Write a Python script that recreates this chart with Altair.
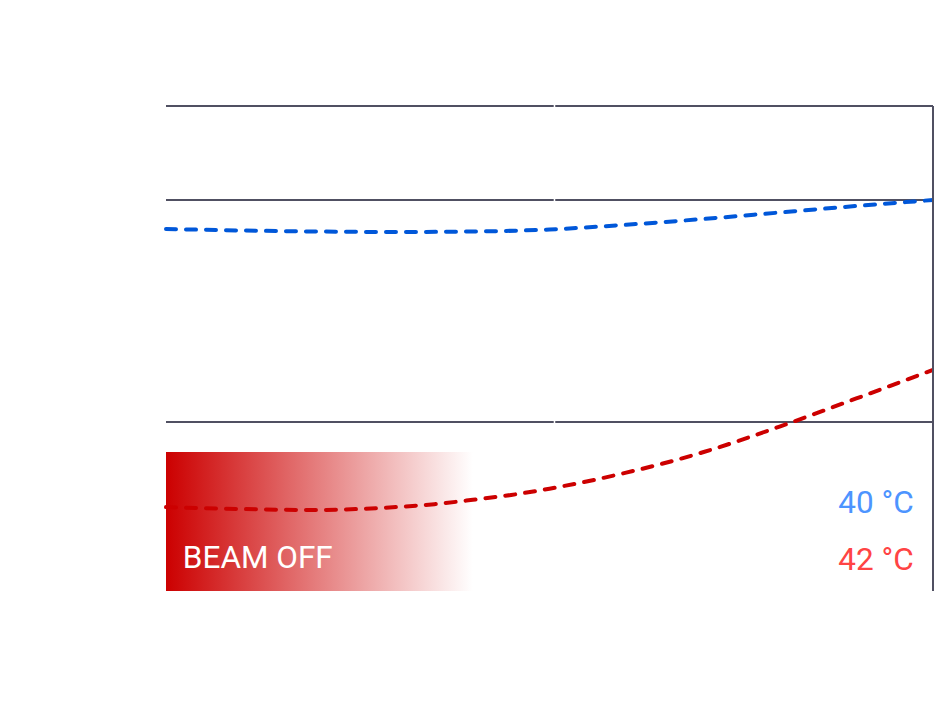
import altair as alt
import pandas as pd

# --- data (x: 0..100 time units, y: 0..100 level units) ---
blue_x = [0, 10, 20, 30, 40, 50, 60, 70, 80, 90, 100]
blue_vals = [74.64, 74.33, 74.12, 74.02, 74.12, 74.54, 75.51, 76.70, 78.04, 79.38, 80.62]

red_x = [0, 10, 20, 25, 30, 35, 40, 45, 50, 60, 70, 80, 90, 100]
red_vals = [17.3, 16.9, 16.7, 16.9, 17.3, 17.9, 18.8, 19.8, 21.1, 24.4, 28.6, 33.9, 39.7, 45.6]

grid_levels = [100, 80.62, 34.85]
grid_segments = [(0, 50.55), (50.75, 100)]
beam_off_window = (0, 40)
beam_off_height = 28.66

xs = alt.Scale(domain=[0, 100], nice=False, zero=False)
ys = alt.Scale(domain=[0, 100], nice=False, zero=False)

blue_df = pd.DataFrame({"x": blue_x, "y": blue_vals})
red_df = pd.DataFrame({"x": red_x, "y": red_vals})
grid_df = pd.DataFrame(
    [{"y": g, "x0": a, "x1": b} for g in grid_levels for (a, b) in grid_segments]
)
beam_df = pd.DataFrame({"x0": [beam_off_window[0]], "x1": [beam_off_window[1]],
                        "y0": [0], "y1": [beam_off_height]})

grid = alt.Chart(grid_df).mark_rule(color="#505062", strokeWidth=2, strokeCap="butt").encode(
    x=alt.X("x0:Q", scale=xs, axis=None),
    x2="x1:Q",
    y=alt.Y("y:Q", scale=ys, axis=None),
)

gradient = alt.LinearGradient(
    gradient="linear",
    stops=[alt.GradientStop(color="#cc0000", offset=0),
           alt.GradientStop(color="#ffffff", offset=1)],
    x1=0, x2=1, y1=0, y2=0,
)
beam = alt.Chart(beam_df).mark_rect(fill=gradient, strokeWidth=0).encode(
    x=alt.X("x0:Q", scale=xs, axis=None),
    x2="x1:Q",
    y=alt.Y("y0:Q", scale=ys, axis=None),
    y2="y1:Q",
)

blue = alt.Chart(blue_df).mark_line(
    color="#0057d9", strokeWidth=4, strokeDash=[10, 10], strokeCap="round", interpolate="monotone"
).encode(x=alt.X("x:Q", scale=xs, axis=None), y=alt.Y("y:Q", scale=ys, axis=None))

red = alt.Chart(red_df).mark_line(
    color="#cc0000", strokeWidth=4, strokeDash=[10, 10], strokeCap="round", interpolate="monotone"
).encode(x=alt.X("x:Q", scale=xs, axis=None), y=alt.Y("y:Q", scale=ys, axis=None))

vline = alt.Chart(pd.DataFrame({"x": [100], "y0": [0], "y1": [100]})).mark_rule(
    color="#505062", strokeWidth=2
).encode(x=alt.X("x:Q", scale=xs, axis=None), y=alt.Y("y0:Q", scale=ys, axis=None), y2="y1:Q")

font = "Roboto"
beam_text = alt.Chart(pd.DataFrame({"t": ["BEAM OFF"]})).mark_text(
    font=font, fontSize=31.5, color="white", align="left", baseline="alphabetic"
).encode(x=alt.datum(2.2, scale=xs), y=alt.datum(4.74, scale=ys), text="t:N")

t40 = alt.Chart(pd.DataFrame({"t": ["40 °C"]})).mark_text(
    font=font, fontSize=31.5, color="#4d94ff", align="right", baseline="alphabetic"
).encode(x=alt.datum(97.5, scale=xs), y=alt.datum(16.08, scale=ys), text="t:N")

t42 = alt.Chart(pd.DataFrame({"t": ["42 °C"]})).mark_text(
    font=font, fontSize=31.5, color="#ff4444", align="right", baseline="alphabetic"
).encode(x=alt.datum(97.5, scale=xs), y=alt.datum(4.33, scale=ys), text="t:N")

chart = alt.layer(grid, beam, blue, red, vline, beam_text, t40, t42).properties(
    width=767, height=485,
    padding={"left": 158, "top": 98, "right": 1, "bottom": 100},
    autosize=alt.AutoSizeParams(type="none"),
).configure_view(stroke=None)

chart.save("out.html", embed_options={"renderer": "svg", "actions": False})
